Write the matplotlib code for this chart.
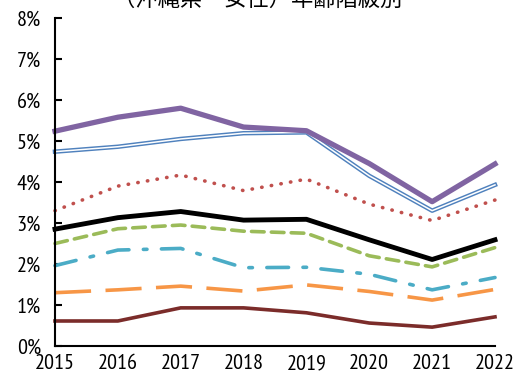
import matplotlib
matplotlib.use("Agg")
import matplotlib.pyplot as plt

years = [2015, 2016, 2017, 2018, 2019, 2020, 2021, 2022]

s_purple = [5.24, 5.58, 5.80, 5.34, 5.25, 4.45, 3.52, 4.44]
s_blue = [4.74, 4.86, 5.05, 5.19, 5.21, 4.15, 3.30, 3.93]
s_red = [3.30, 3.90, 4.17, 3.79, 4.07, 3.46, 3.06, 3.56]
s_black = [2.85, 3.13, 3.28, 3.07, 3.09, 2.59, 2.11, 2.59]
s_green = [2.50, 2.86, 2.95, 2.80, 2.75, 2.20, 1.93, 2.40]
s_cyan = [1.96, 2.34, 2.38, 1.91, 1.92, 1.75, 1.37, 1.67]
s_orange = [1.30, 1.37, 1.46, 1.34, 1.49, 1.33, 1.12, 1.38]
s_maroon = [0.61, 0.61, 0.93, 0.93, 0.81, 0.56, 0.46, 0.71]

yticks = [0, 1, 2, 3, 4, 5, 6, 7, 8]
ytick_labels = [f"{v}%" for v in yticks]
title = "（沖縄県　女性）年齢階級別"

tick_font = ["PT Sans Narrow", "Roboto Condensed", "DejaVu Sans"]

fig = plt.figure(figsize=(5.16, 3.78), dpi=100)
ax = fig.add_axes([55 / 516, 1 - 346 / 378, 440 / 516, 328 / 378])

ax.plot(years, s_maroon, color="#7B2C2A", lw=2.6)
ax.plot(years, s_orange, color="#F79646", lw=2.6, dashes=(10, 4))
ax.plot(years, s_cyan, color="#4BACC6", lw=2.6, dashes=(6, 4, 1, 4), dash_capstyle="round")
ax.plot(years, s_green, color="#9BBB59", lw=2.6, dashes=(3.5, 2), dash_capstyle="round")
ax.plot(years, s_black, color="black", lw=3.5)
ax.plot(years, s_red, color="#C0504D", lw=2.6, dashes=(0.1, 2.6), dash_capstyle="round")
ax.plot(years, s_blue, color="#4F81BD", lw=3.2)
ax.plot(years, s_blue, color="white", lw=1.1)
ax.plot(years, s_purple, color="#8064A2", lw=3.8)

ax.set_xlim(2015, 2022)
ax.set_ylim(0, 8)
ax.set_xticks(years)
ax.set_xticklabels([str(y) for y in years], fontsize=16, family=tick_font)
ax.set_yticks(yticks)
ax.set_yticklabels(ytick_labels, fontsize=16, family=tick_font)
ax.tick_params(axis="y", direction="in", length=5, width=1.5, pad=10)
ax.tick_params(axis="x", length=0, pad=6)
for side in ("top", "right"):
    ax.spines[side].set_visible(False)
ax.spines["left"].set_linewidth(1.5)
ax.spines["bottom"].set_linewidth(1.5)
for sp in ax.spines.values():
    sp.set_clip_on(False)
for ln in ax.lines:
    ln.set_clip_on(False)

fig.text(0.5, 1 - 6 / 378, title, ha="center", va="baseline", fontsize=16,
         family=["Noto Sans CJK JP", "DejaVu Sans"])

fig.savefig("out.png", dpi=100)
